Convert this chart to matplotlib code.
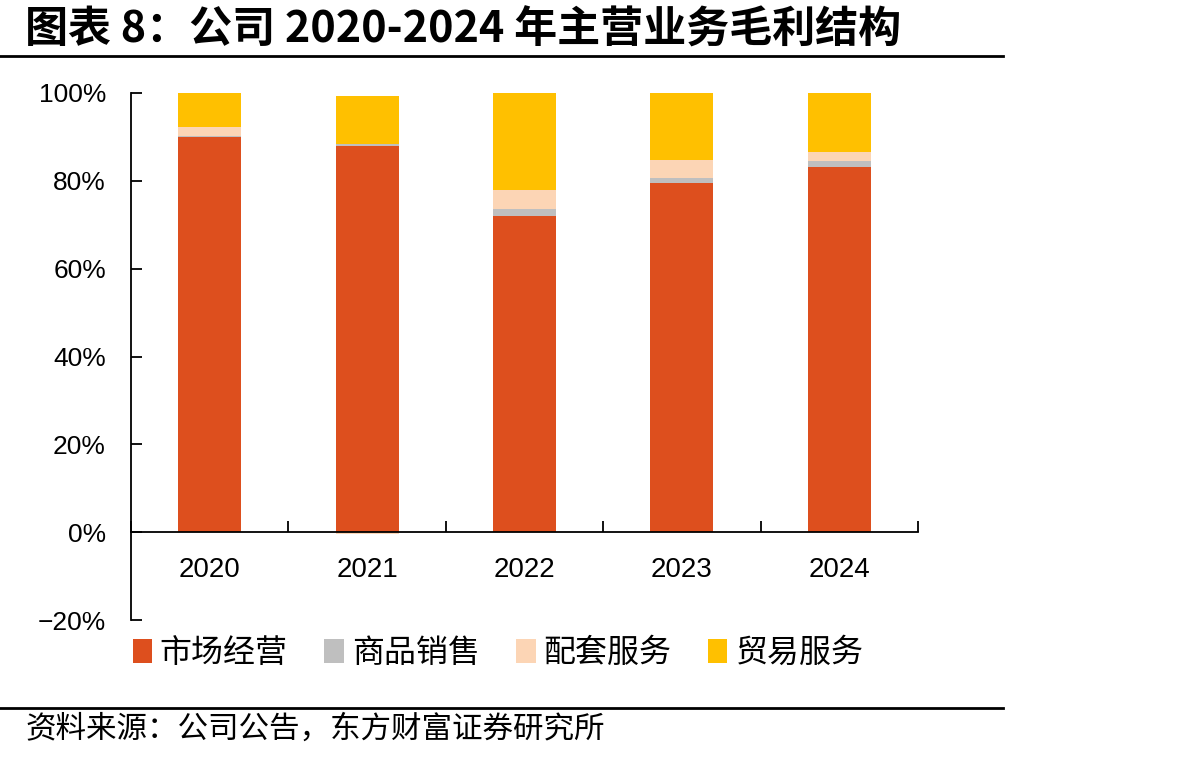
import matplotlib
matplotlib.use("Agg")
import matplotlib.pyplot as plt
import numpy as np
from matplotlib.lines import Line2D
from matplotlib.patches import Patch

plt.rcParams['font.family'] = ['Liberation Sans', 'Noto Sans CJK SC', 'DejaVu Sans']

years = ['2020', '2021', '2022', '2023', '2024']
series_names = ['市场经营', '商品销售', '配套服务', '贸易服务']
market = [90.0, 87.9, 72.1, 79.5, 83.1]
goods = [0.3, 0.6, 1.4, 1.2, 1.4]
support = [2.0, -0.5, 4.3, 4.0, 2.1]
trade = [7.7, 10.8, 22.3, 15.3, 13.4]
colors = ['#DD4F1E', '#BFBFBF', '#FCD5B5', '#FFC000']
yticks = [-20, 0, 20, 40, 60, 80, 100]

W, H = 1193, 760
fig = plt.figure(figsize=(W / 100, H / 100), dpi=100)
ax = fig.add_axes([131 / W, 1 - 620 / H, (918 - 131) / W, (620 - 93) / H])

x = np.arange(len(years))
pos_bottom = np.zeros(len(years))
neg_bottom = np.zeros(len(years))
for vals, c in zip([market, goods, support, trade], colors):
    v = np.array(vals, dtype=float)
    b = np.where(v >= 0, pos_bottom, neg_bottom)
    ax.bar(x, v, width=0.4, bottom=b, color=c, edgecolor='none', zorder=2)
    pos_bottom += np.where(v >= 0, v, 0)
    neg_bottom += np.where(v < 0, v, 0)

ax.set_xlim(-0.5, len(years) - 0.5)
ax.set_ylim(-20, 100)
for s in ['top', 'right']:
    ax.spines[s].set_visible(False)
ax.spines['bottom'].set_position(('data', 0))
ax.spines['bottom'].set_zorder(3)
for s in ['left', 'bottom']:
    ax.spines[s].set_linewidth(1.3)
    ax.spines[s].set_color('#000000')

ax.set_yticks(yticks)
ax.set_yticklabels([(f"{t}%").replace('-', '\u2212') for t in yticks], fontsize=19)
ax.tick_params(axis='y', direction='in', length=8, width=1.3, pad=18)

ax.set_xticks(np.arange(len(years) + 1) - 0.5)
ax.set_xticklabels([])
ax.tick_params(axis='x', which='major', direction='in', length=8, width=1.3)
ax.set_xticks(x, minor=True)
ax.set_xticklabels(years, minor=True, fontsize=20)
ax.tick_params(axis='x', which='minor', length=0, pad=18)

handles = [Patch(facecolor=c, edgecolor='none') for c in colors]
fig.legend(handles, series_names, loc='center', bbox_to_anchor=(498 / W, 1 - 653 / H),
           ncol=4, frameon=False, prop={'family': 'Noto Sans CJK SC', 'size': 23},
           handlelength=0.6, handleheight=0.8, handletextpad=0.25, columnspacing=1.15)

fig.text(25 / W, 1 - 30 / H, '图表 8：公司 2020-2024 年主营业务毛利结构', fontsize=31,
         fontweight='bold', family=['Noto Sans CJK SC', 'DejaVu Sans'], va='center', ha='left')
fig.add_artist(Line2D([0, 1003 / W], [1 - 56 / H, 1 - 56 / H], color='black', lw=2))
fig.add_artist(Line2D([0, 1003 / W], [1 - 708 / H, 1 - 708 / H], color='black', lw=2))
fig.text(25 / W, 1 - 729 / H, '资料来源：公司公告，东方财富证券研究所', fontsize=22,
         family=['Noto Sans CJK SC', 'DejaVu Sans'], va='center', ha='left')

fig.savefig('out.png', dpi=100, facecolor='white')
